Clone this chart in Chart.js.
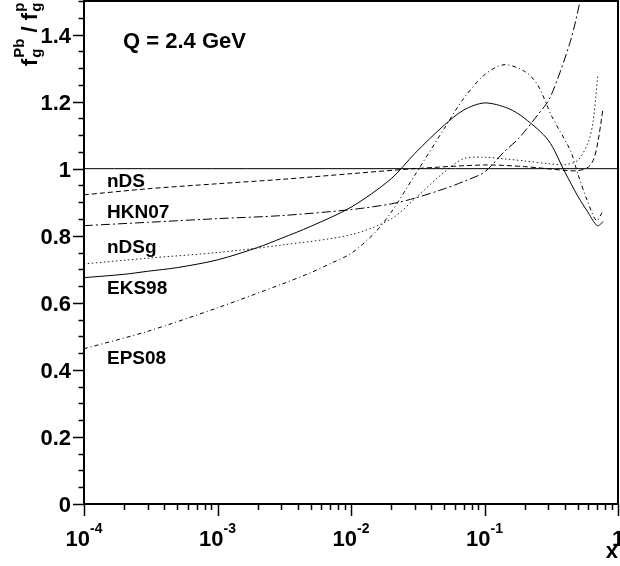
<!DOCTYPE html>
<html>
<head>
<meta charset="utf-8">
<script src="https://cdn.jsdelivr.net/npm/chart.js@4.4.1/dist/chart.umd.min.js"></script>
<style>
  html, body { margin: 0; padding: 0; background: #fff; }
  #wrap { width: 620px; height: 566px; }
</style>
</head>
<body>
<div id="wrap"><canvas id="chart" width="620" height="566"></canvas></div>
<script>
// values: x (log axis) and the ratio for each set
const ndsX = [1e-4, 3e-4, 1e-3, 3e-3, 0.01, 0.03, 0.1, 0.2, 0.4, 0.5, 0.6, 0.66, 0.71, 0.773];
const ndsY = [0.922, 0.94, 0.955, 0.968, 0.985, 1.0, 1.011, 1.006, 0.995, 0.994, 1.005, 1.03, 1.084, 1.18];

const hknX = [1e-4, 3e-4, 1e-3, 3e-3, 0.01, 0.02, 0.03, 0.05, 0.07, 0.1, 0.14, 0.18, 0.25, 0.31, 0.44, 0.52, 0.6];
const hknY = [0.83, 0.84, 0.851, 0.86, 0.878, 0.895, 0.912, 0.94, 0.962, 0.99, 1.05, 1.09, 1.16, 1.212, 1.38, 1.5, 1.62];

const ndsgX = [1e-4, 3e-4, 1e-3, 3e-3, 0.01, 0.02, 0.03, 0.05, 0.07, 0.1, 0.15, 0.2, 0.3, 0.4, 0.5, 0.6, 0.65, 0.705];
const ndsgY = [0.716, 0.733, 0.75, 0.772, 0.803, 0.85, 0.91, 0.99, 1.03, 1.034, 1.028, 1.023, 1.015, 1.012, 1.025, 1.08, 1.14, 1.275];

const eksX = [1e-4, 2e-4, 3e-4, 5e-4, 1e-3, 2e-3, 3e-3, 5e-3, 0.01, 0.02, 0.03, 0.05, 0.07, 0.1, 0.15, 0.2, 0.3, 0.4, 0.5, 0.6, 0.7, 0.776];
const eksY = [0.675, 0.685, 0.694, 0.705, 0.728, 0.765, 0.792, 0.828, 0.885, 0.97, 1.045, 1.13, 1.175, 1.196, 1.18, 1.15, 1.085, 0.99, 0.918, 0.868, 0.83, 0.842];

const epsX = [1e-4, 3e-4, 1e-3, 3e-3, 5e-3, 7e-3, 0.01, 0.015, 0.02, 0.03, 0.05, 0.07, 0.1, 0.14, 0.2, 0.25, 0.32, 0.44, 0.5, 0.59, 0.69, 0.76];
const epsY = [0.463, 0.515, 0.585, 0.655, 0.69, 0.717, 0.747, 0.808, 0.87, 0.98, 1.12, 1.21, 1.28, 1.31, 1.29, 1.25, 1.155, 1.054, 0.985, 0.904, 0.845, 0.869];

const refX = [1e-4, 1];
const refY = [1, 1];

const seriesNames = ['nDS', 'HKN07', 'nDSg', 'EKS98', 'EPS08'];
const yTicks = [0, 0.2, 0.4, 0.6, 0.8, 1, 1.2, 1.4];
const yTickLabels = ['0', '0.2', '0.4', '0.6', '0.8', '1', '1.2', '1.4'];
const xDecades = [1e-4, 1e-3, 1e-2, 1e-1, 1];
const xTickExp = ['-4', '-3', '-2', '-1', ''];
const xTickBase = ['10', '10', '10', '10', '1'];
const title = 'Q = 2.4 GeV';

// where the set names sit (value on the y axis)
const nameAt = [0.946, 0.854, 0.749, 0.627, 0.418];

const pts = (xs, ys) => xs.map((x, i) => ({ x: x, y: ys[i] }));
const FONT = '"Liberation Sans", Arial, Helvetica, sans-serif';

function line(data, dash, color) {
  return {
    data: data,
    borderColor: color || '#000',
    borderWidth: 1,
    borderDash: dash,
    pointRadius: 0,
    fill: false,
    tension: 0.3
  };
}

// ROOT-like frame, ticks and labels, drawn on top of the curves
const rootFrame = {
  id: 'rootFrame',
  afterDatasetsDraw(chart) {
    const { ctx, chartArea: a, scales: { x, y } } = chart;
    ctx.save();
    ctx.strokeStyle = '#000';
    ctx.fillStyle = '#000';

    // frame
    ctx.lineWidth = 2;
    ctx.strokeRect(a.left, a.top, a.right - a.left, a.bottom - a.top);

    // y ticks (major every 0.2, minor every 0.05)
    ctx.lineWidth = 1.5;
    for (let k = 0; k <= 30; k++) {
      const py = Math.round(y.getPixelForValue(k * 0.05)) + 0.5;
      const len = k % 4 === 0 ? 11 : 5.5;
      ctx.beginPath();
      ctx.moveTo(a.left, py);
      ctx.lineTo(a.left - len, py);
      ctx.stroke();
    }
    // x ticks (decades + 2..9)
    xDecades.forEach((d, i) => {
      for (let m = 1; m <= 9; m++) {
        const v = d * m;
        if (v > 1.0001) break;
        const px = Math.round(x.getPixelForValue(v)) + 0.5;
        const len = m === 1 ? 12 : 6;
        ctx.beginPath();
        ctx.moveTo(px, a.bottom);
        ctx.lineTo(px, a.bottom + len);
        ctx.stroke();
      }
    });

    // y tick labels
    ctx.font = 'bold 22px ' + FONT;
    ctx.textAlign = 'right';
    ctx.textBaseline = 'alphabetic';
    yTicks.forEach((v, i) => {
      ctx.fillText(yTickLabels[i], a.left - 13, y.getPixelForValue(v) + 8);
    });

    // x tick labels with superscript exponent
    ctx.textAlign = 'left';
    xDecades.forEach((d, i) => {
      ctx.font = 'bold 22px ' + FONT;
      const wb = ctx.measureText(xTickBase[i]).width;
      ctx.font = 'bold 14px ' + FONT;
      const we = xTickExp[i] ? ctx.measureText(xTickExp[i]).width : 0;
      const x0 = x.getPixelForValue(d) - (wb + we) / 2;
      ctx.font = 'bold 22px ' + FONT;
      ctx.fillText(xTickBase[i], x0, 546);
      if (xTickExp[i]) {
        ctx.font = 'bold 14px ' + FONT;
        ctx.fillText(xTickExp[i], x0 + wb, 533);
      }
    });

    // axis title x
    ctx.font = 'bold 22px ' + FONT;
    ctx.textAlign = 'right';
    ctx.fillText('x', a.right, 558);

    // axis title y: f_g^Pb / f_g^p, rotated
    ctx.save();
    ctx.translate(37, 66);
    ctx.rotate(-Math.PI / 2);
    ctx.textAlign = 'left';
    let cx = 0;
    const big = 'bold 22px ' + FONT, small = 'bold 15px ' + FONT;
    function fWithScripts(sup) {
      ctx.font = big;
      ctx.fillText('f', cx, 0);
      cx += ctx.measureText('f').width + 1;
      ctx.font = small;
      ctx.fillText('g', cx, 4);
      ctx.fillText(sup, cx, -13);
      cx += Math.max(ctx.measureText('g').width, ctx.measureText(sup).width);
    }
    fWithScripts('Pb');
    ctx.font = big;
    ctx.fillText(' / ', cx, 0);
    cx += ctx.measureText(' / ').width;
    fWithScripts('p');
    ctx.restore();

    // plot title
    ctx.font = 'bold 22px ' + FONT;
    ctx.textAlign = 'left';
    ctx.fillText(title, a.left + 39, 48);

    // set names
    ctx.font = 'bold 19px ' + FONT;
    seriesNames.forEach((s, i) => {
      ctx.fillText(s, a.left + 23, y.getPixelForValue(nameAt[i]));
    });

    ctx.restore();
  }
};

new Chart(document.getElementById('chart').getContext('2d'), {
  type: 'line',
  data: {
    datasets: [
      line(pts(refX, refY), [], '#000'),
      line(pts(ndsX, ndsY), [5, 3]),
      line(pts(hknX, hknY), [9, 3, 2, 3]),
      line(pts(ndsgX, ndsgY), [1.5, 2.5], '#222'),
      line(pts(eksX, eksY), []),
      line(pts(epsX, epsY), [4, 3, 1, 3])
    ]
  },
  options: {
    responsive: false,
    animation: false,
    events: [],
    layout: { padding: { left: 84, right: 2, top: 1, bottom: 62 } },
    plugins: { legend: { display: false }, tooltip: { enabled: false } },
    scales: {
      x: { type: 'logarithmic', min: 1e-4, max: 1, display: false },
      y: { type: 'linear', min: 0, max: 1.5, display: false }
    }
  },
  plugins: [rootFrame]
});
</script>
</body>
</html>
